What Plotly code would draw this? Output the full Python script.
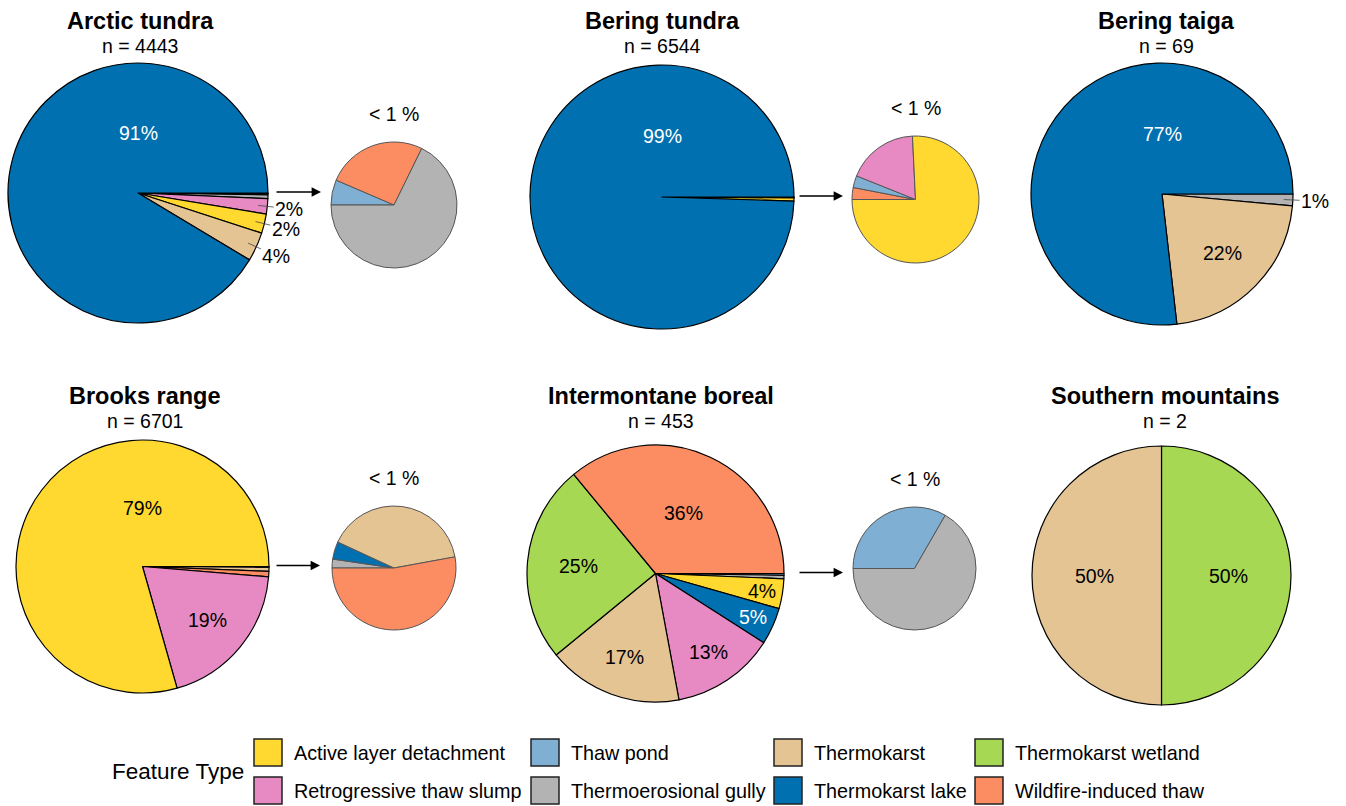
import math
import plotly.graph_objects as go

W, H = 1346, 806
FONT = "Liberation Sans, Arial, sans-serif"

# ---------------- data ----------------
categories = ["Active layer detachment", "Retrogressive thaw slump", "Thaw pond",
              "Thermoerosional gully", "Thermokarst", "Thermokarst lake",
              "Thermokarst wetland", "Wildfire-induced thaw"]
colors = ["#FFD92F", "#E78AC3", "#7FAFD3", "#B3B3B3", "#E5C494", "#0070B0", "#A6D854", "#FC8D62"]
text_colors = ["black", "black", "black", "black", "black", "white", "black", "black"]

regions = ["Arctic tundra", "Bering tundra", "Bering taiga",
           "Brooks range", "Intermontane boreal", "Southern mountains"]

# feature counts per region, in the order of `categories`
arctic_tundra = [107, 84, 2, 21, 160, 4061, 0, 8]
bering_tundra = [25, 6, 1, 0, 0, 6511, 0, 1]
bering_taiga = [0, 0, 0, 1, 15, 53, 0, 0]
brooks_range = [5321, 1293, 0, 2, 35, 4, 0, 46]
intermontane_boreal = [17, 59, 1, 2, 77, 21, 113, 163]
southern_mountains = [0, 0, 0, 0, 1, 0, 1, 0]
counts = [arctic_tundra, bering_tundra, bering_taiga,
          brooks_range, intermontane_boreal, southern_mountains]

detail_label = "< 1 %"
legend_title = "Feature Type"

# ---------------- layout (pixels) ----------------
main_geom = [(138, 193, 130), (662, 197, 132), (1162, 194, 131),
             (142.5, 566.5, 126.5), (655.5, 573.5, 128.5), (1161.5, 575.5, 129.5)]
detail_geom = [(394, 205, 63), (915.5, 199.5, 63.5), None,
               (394, 568, 62), (914.5, 568.5, 61.5), None]
start_rot = [90, 90, 90, 90, 90, 0]
title_x = [140, 662, 1166, 145, 661, 1165]
title_y = [21, 21, 21, 396, 396, 396]
n_y = [46, 46, 46, 421, 421, 421]
arrow_x = [(275, 321), (798, 843), None, (275, 320), (798, 843), None]

legend_col_x = [254, 531, 774, 975]
legend_row_y = [752.5, 790.5]
SW, SH = 28, 27


def px(x):
    return x / W


def py(y):
    return 1 - y / H


def ordered(vals, keep):
    idx = [i for i, v in enumerate(vals) if v > 0 and keep(i)]
    return sorted(idx, key=lambda i: (vals[i], -i))


def text_ann(x, y, text, size, color="black", xanchor="center"):
    return dict(x=px(x), y=py(y), xref="paper", yref="paper",
                xanchor=xanchor, yanchor="middle", text=text, showarrow=False,
                font=dict(size=size, color=color, family=FONT))


fig = go.Figure()
ann = []
shapes = []

for k, reg in enumerate(regions):
    vals = counts[k]
    n = sum(vals)
    pct = [100.0 * v / n for v in vals]
    cx, cy, R = main_geom[k]
    main_idx = ordered(vals, lambda i: True)
    fig.add_trace(go.Pie(
        labels=[categories[i] for i in main_idx],
        values=[vals[i] for i in main_idx],
        marker=dict(colors=[colors[i] for i in main_idx],
                    line=dict(color="black", width=1.2)),
        sort=False, direction="clockwise", rotation=start_rot[k],
        textinfo="none", hoverinfo="label+percent", showlegend=False,
        name=reg,
        domain=dict(x=[px(cx - R), px(cx + R)], y=[py(cy + R), py(cy - R)]),
    ))

    # slice labels
    cum = 0
    for i in main_idx:
        f0 = cum / n
        cum += vals[i]
        f1 = cum / n
        p = pct[i]
        if p < 1:
            continue
        label = f"{round(p)}%"
        mid = math.radians(90 - start_rot[k] - 180 * (f0 + f1))
        if p < 3.7:
            tx = cx + 0.93 * R * math.cos(mid)
            ty = cy - 0.93 * R * math.sin(mid)
            lx = cx + 1.17 * R * math.cos(mid)
            ly = cy - 1.17 * R * math.sin(mid)
            ann.append(dict(x=px(tx), y=py(ty), xref="paper", yref="paper",
                            xanchor="center", yanchor="middle",
                            text=label, showarrow=True, arrowhead=0, arrowwidth=0.8,
                            arrowcolor="#444", ax=lx - tx, ay=ly - ty, standoff=0,
                            font=dict(size=19.5, color="black", family=FONT)))
            continue
        if p > 50:
            ang, rf = math.pi / 2, 0.46
        else:
            ang, rf = mid, max(0.52, 0.88 - 0.011 * p)
        lx = cx + rf * R * math.cos(ang)
        ly = cy - rf * R * math.sin(ang)
        ann.append(text_ann(lx, ly, label, 19.5, text_colors[i]))

    # titles
    ann.append(text_ann(title_x[k], title_y[k], f"<b>{reg}</b>", 23.5))
    ann.append(text_ann(title_x[k], n_y[k], f"n = {n}", 19.5))

    # detail pie of the < 1 % categories
    if detail_geom[k] is not None:
        d_idx = ordered(vals, lambda i: pct[i] < 1)
        scx, scy, sR = detail_geom[k]
        fig.add_trace(go.Pie(
            labels=[categories[i] for i in d_idx],
            values=[vals[i] for i in d_idx],
            marker=dict(colors=[colors[i] for i in d_idx],
                        line=dict(color="#555555", width=1)),
            sort=False, direction="clockwise", rotation=270,
            textinfo="none", hoverinfo="label+percent", showlegend=False,
            name=reg + " " + detail_label,
            domain=dict(x=[px(scx - sR), px(scx + sR)], y=[py(scy + sR), py(scy - sR)]),
        ))
        ann.append(text_ann(scx, scy - sR - 28, detail_label, 19.5))
        t_x, h_x = arrow_x[k]
        ay_px = cy - 1
        ann.append(dict(x=px(h_x), y=py(ay_px), xref="paper", yref="paper",
                        text="", showarrow=True, arrowhead=2, arrowsize=1.1,
                        arrowwidth=1.7, arrowcolor="black", ax=t_x - h_x, ay=0,
                        standoff=0))

# ---------------- legend ----------------
ann.append(text_ann(110, 771, legend_title, 22.5, xanchor="left"))
for i, cat in enumerate(categories):
    lx = legend_col_x[i // 2]
    ly = legend_row_y[i % 2]
    shapes.append(dict(type="rect", xref="paper", yref="paper",
                       x0=px(lx), x1=px(lx + SW), y0=py(ly + SH / 2), y1=py(ly - SH / 2),
                       fillcolor=colors[i], line=dict(color="#222222", width=1.5)))
    ann.append(text_ann(lx + 38, ly, cat, 19.8, xanchor="left"))

fig.update_layout(
    width=W, height=H,
    margin=dict(l=0, r=0, t=0, b=0),
    paper_bgcolor="white", plot_bgcolor="white",
    showlegend=False,
    annotations=ann, shapes=shapes,
    font=dict(family=FONT, color="black"),
)

fig.write_html("out.html")
